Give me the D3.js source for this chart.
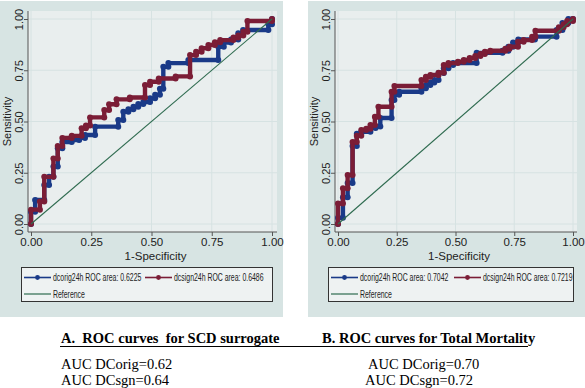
<!DOCTYPE html>
<html>
<head>
<meta charset="utf-8">
<script src="https://cdn.jsdelivr.net/npm/d3@7"></script>
<style>
  body { margin: 0; background: #fff; }
  svg { display: block; }
  .sans { font-family: "Liberation Sans", Arial, sans-serif; fill: #222; }
  .serif { font-family: "Liberation Serif", "Times New Roman", serif; fill: #000; }
</style>
</head>
<body>
<div id="chart"></div>
<script>
// ROC points [1-specificity, sensitivity]
const scdOrig = [[0,0],[0,0.06],[0.017,0.06],[0.017,0.117],[0.055,0.117],[0.055,0.19],[0.075,0.19],[0.075,0.23],
  [0.093,0.23],[0.093,0.28],[0.111,0.28],[0.111,0.37],[0.13,0.37],[0.13,0.40],[0.169,0.40],[0.169,0.41],
  [0.2,0.41],[0.2,0.42],[0.224,0.42],[0.224,0.434],[0.266,0.434],[0.266,0.475],[0.362,0.475],[0.362,0.507],
  [0.383,0.507],[0.383,0.548],[0.404,0.548],[0.404,0.56],[0.425,0.56],[0.425,0.572],[0.445,0.572],[0.445,0.585],
  [0.466,0.585],[0.466,0.595],[0.494,0.595],[0.494,0.613],[0.515,0.613],[0.515,0.63],[0.535,0.63],[0.535,0.66],
  [0.549,0.66],[0.549,0.767],[0.57,0.767],[0.57,0.785],[0.653,0.785],[0.653,0.80],[0.777,0.80],[0.777,0.865],
  [0.80,0.865],[0.80,0.885],[0.83,0.885],[0.83,0.90],[0.86,0.90],[0.86,0.93],[0.88,0.93],[0.88,0.946],
  [0.985,0.946],[0.985,0.975],[1,0.975],[1,1]];

const scdSign = [[0,0],[0,0.07],[0.037,0.07],[0.037,0.11],[0.055,0.11],[0.055,0.23],[0.093,0.23],[0.093,0.32],
  [0.111,0.32],[0.111,0.38],[0.13,0.38],[0.13,0.42],[0.169,0.42],[0.169,0.43],[0.21,0.43],[0.21,0.467],
  [0.228,0.467],[0.228,0.48],[0.245,0.48],[0.245,0.52],[0.304,0.52],[0.304,0.556],[0.324,0.556],[0.324,0.584],
  [0.355,0.584],[0.355,0.608],[0.41,0.608],[0.41,0.617],[0.473,0.617],[0.473,0.678],[0.494,0.678],[0.494,0.694],
  [0.53,0.694],[0.53,0.71],[0.6,0.71],[0.6,0.72],[0.66,0.72],[0.66,0.824],[0.685,0.824],[0.685,0.84],
  [0.708,0.84],[0.708,0.857],[0.736,0.857],[0.736,0.873],[0.763,0.873],[0.763,0.887],[0.785,0.887],[0.785,0.897],
  [0.84,0.897],[0.84,0.91],[0.86,0.91],[0.86,0.92],[0.881,0.92],[0.881,0.938],[0.898,0.938],[0.898,0.99],
  [1,0.99],[1,1]];

const mortOrig = [[0,0],[0,0.03],[0.021,0.03],[0.021,0.13],[0.041,0.13],[0.041,0.20],[0.062,0.20],[0.062,0.38],
  [0.08,0.38],[0.08,0.44],[0.099,0.44],[0.099,0.45],[0.138,0.45],[0.138,0.468],[0.16,0.468],[0.16,0.476],
  [0.18,0.476],[0.18,0.517],[0.228,0.517],[0.228,0.605],[0.24,0.605],[0.24,0.63],[0.26,0.63],[0.26,0.645],
  [0.355,0.645],[0.355,0.662],[0.374,0.662],[0.374,0.678],[0.393,0.678],[0.393,0.69],[0.41,0.69],[0.41,0.702],
  [0.428,0.702],[0.428,0.737],[0.45,0.737],[0.45,0.76],[0.47,0.76],[0.47,0.776],[0.49,0.776],[0.49,0.785],
  [0.59,0.785],[0.59,0.835],[0.70,0.835],[0.70,0.845],[0.725,0.845],[0.725,0.865],[0.745,0.865],[0.745,0.885],
  [0.767,0.885],[0.767,0.9],[0.838,0.9],[0.838,0.914],[0.93,0.914],[0.93,0.946],[0.955,0.946],[0.955,0.98],
  [0.98,0.98],[0.98,1],[1,1]];

const mortSign = [[0,0],[0,0.10],[0.021,0.10],[0.021,0.174],[0.041,0.174],[0.041,0.239],[0.062,0.239],[0.062,0.40],
  [0.08,0.40],[0.08,0.43],[0.099,0.43],[0.099,0.459],[0.12,0.459],[0.12,0.465],[0.138,0.465],[0.138,0.483],
  [0.157,0.483],[0.157,0.523],[0.172,0.523],[0.172,0.572],[0.228,0.572],[0.228,0.645],[0.24,0.645],[0.24,0.673],
  [0.355,0.673],[0.355,0.702],[0.374,0.702],[0.374,0.718],[0.393,0.718],[0.393,0.727],[0.428,0.727],[0.428,0.738],
  [0.45,0.738],[0.45,0.776],[0.47,0.776],[0.47,0.785],[0.51,0.785],[0.51,0.792],[0.535,0.792],[0.535,0.80],
  [0.56,0.80],[0.56,0.81],[0.584,0.81],[0.584,0.82],[0.606,0.82],[0.606,0.829],[0.625,0.829],[0.625,0.84],
  [0.648,0.84],[0.648,0.845],[0.712,0.845],[0.712,0.855],[0.73,0.855],[0.73,0.865],[0.766,0.865],[0.766,0.889],
  [0.79,0.889],[0.79,0.897],[0.826,0.897],[0.826,0.914],[0.84,0.914],[0.84,0.943],[0.94,0.943],[0.94,0.96],
  [0.96,0.96],[0.96,0.975],[0.975,0.975],[0.975,0.99],[1,0.99],[1,1]];

const reference = [[0,0],[1,1]];
const ticks = [0, 0.25, 0.5, 0.75, 1];

const legendA = ['dcorig24h ROC area: 0.6225', 'dcsign24h ROC area: 0.6486', 'Reference'];
const legendB = ['dcorig24h ROC area: 0.7042', 'dcsign24h ROC area: 0.7219', 'Reference'];

const captionA = 'A.  ROC curves  for SCD surrogate';
const captionB = 'B. ROC curves for Total Mortality';
const aucA = ['AUC DCorig=0.62', 'AUC DCsgn=0.64'];
const aucB = ['AUC DCorig=0.70', 'AUC DCsgn=0.72'];

const navy = '#1a3a88', maroon = '#7b1d36', green = '#2e6b4f';

const width = 585, height = 388;

const svg = d3.select('#chart').append('svg')
  .attr('width', width)
  .attr('height', height);

const panels = [
  { px: 0, pw: 283, rx: 28, rw: 249, x0: 31, x1: 272, lx: 21, lw: 251,
    orig: scdOrig, sign: scdSign, legend: legendA, s2x: 145 },
  { px: 308, pw: 277, rx: 335, rw: 242, x0: 338, x1: 573, lx: 328, lw: 245,
    orig: mortOrig, sign: mortSign, legend: legendB, s2x: 454 }
];

panels.forEach(p => {

  const g = svg.append('g');

  g.append('rect')
    .attr('x', p.px).attr('y', 1)
    .attr('width', p.pw).attr('height', 316)
    .attr('fill', '#d7e4e3');

  g.append('rect')
    .attr('x', p.rx).attr('y', 11)
    .attr('width', p.rw).attr('height', 221)
    .attr('fill', '#e9eeee');

  let x = d3.scaleLinear().domain([0, 1]).range([p.x0, p.x1]);
  let y = d3.scaleLinear().domain([0, 1]).range([224, 19]);

  // grid
  g.selectAll('.hg').data(ticks).enter()
    .append('line')
    .attr('x1', p.rx).attr('x2', p.rx + p.rw)
    .attr('y1', d => y(d)).attr('y2', d => y(d))
    .attr('stroke', '#d6e2e2').attr('stroke-width', 1);

  g.selectAll('.vg').data(ticks).enter()
    .append('line')
    .attr('y1', 11).attr('y2', 232)
    .attr('x1', d => x(d)).attr('x2', d => x(d))
    .attr('stroke', '#d6e2e2').attr('stroke-width', 1);

  // axes
  const xAxis = g.append('g')
    .attr('transform', 'translate(0,232)')
    .call(d3.axisBottom(x).tickValues(ticks).tickFormat(d3.format('.2f')).tickSize(4).tickSizeOuter(0));

  xAxis.select('.domain').attr('d', `M${p.rx},0H${p.rx + p.rw}`).attr('stroke', '#555');
  xAxis.selectAll('.tick line').attr('stroke', '#555');
  xAxis.selectAll('.tick text')
    .attr('class', 'sans')
    .attr('font-size', 11.5)
    .attr('y', 6)
    .attr('dy', '0.71em');

  const yAxis = g.append('g')
    .attr('transform', `translate(${p.rx},0)`)
    .call(d3.axisLeft(y).tickValues(ticks).tickFormat(d3.format('.2f')).tickSize(4).tickSizeOuter(0));

  yAxis.select('.domain').attr('d', 'M0,11V232').attr('stroke', '#555');
  yAxis.selectAll('.tick line').attr('stroke', '#555');
  yAxis.selectAll('.tick text')
    .attr('class', 'sans')
    .attr('font-size', 11)
    .attr('x', null).attr('dy', null)
    .attr('text-anchor', 'middle')
    .attr('transform', 'translate(-5,0) rotate(-90)');

  g.append('text')
    .attr('class', 'sans')
    .attr('font-size', 11.5)
    .attr('text-anchor', 'middle')
    .attr('x', (p.rx + p.rx + p.rw) / 2 + 3)
    .attr('y', 260)
    .text('1-Specificity');

  g.append('text')
    .attr('class', 'sans')
    .attr('font-size', 11)
    .attr('text-anchor', 'middle')
    .attr('transform', `translate(${p.rx - 17},${y(0.5)}) rotate(-90)`)
    .text('Sensitivity');

  // curves
  const line = d3.line().x(d => x(d[0])).y(d => y(d[1]));

  [[p.orig, navy], [p.sign, maroon]].forEach(([data, col]) => {

    g.append('path')
      .datum(data)
      .attr('d', line)
      .attr('fill', 'none')
      .attr('stroke', col)
      .attr('stroke-width', 4.4)
      .attr('stroke-linejoin', 'round')
      .attr('stroke-linecap', 'round');

    g.selectAll(null)
      .data(data)
      .enter()
      .append('circle')
      .attr('cx', d => x(d[0]))
      .attr('cy', d => y(d[1]))
      .attr('r', 3)
      .attr('fill', col);
  });

  g.append('path')
    .datum(reference)
    .attr('d', line)
    .attr('fill', 'none')
    .attr('stroke', green)
    .attr('stroke-width', 1.1);

  // legend
  g.append('rect')
    .attr('x', p.lx + 0.5).attr('y', 267.5)
    .attr('width', p.lw).attr('height', 34)
    .attr('fill', '#eef2f2')
    .attr('stroke', '#333').attr('stroke-width', 1);

  const items = [
    { sx: p.lx + 3, row: 277.5, col: navy, dot: true, text: p.legend[0] },
    { sx: p.s2x, row: 277.5, col: maroon, dot: true, text: p.legend[1] },
    { sx: p.lx + 3, row: 294, col: green, dot: false, text: p.legend[2] }
  ];

  items.forEach(it => {

    g.append('line')
      .attr('x1', it.sx).attr('x2', it.sx + 27)
      .attr('y1', it.row).attr('y2', it.row)
      .attr('stroke', it.col)
      .attr('stroke-width', it.dot ? 1.6 : 1.2);

    if (it.dot) {
      g.append('circle')
        .attr('cx', it.sx + 13.5).attr('cy', it.row)
        .attr('r', 2.4)
        .attr('fill', it.col);
    }

    g.append('text')
      .attr('class', 'sans')
      .attr('font-size', 10.5)
      .attr('transform', `translate(${it.sx + 29},${it.row + 3.8}) scale(0.66,1)`)
      .text(it.text);
  });
});

// captions below the charts
svg.append('text')
  .attr('class', 'serif')
  .attr('font-size', 14.5)
  .attr('font-weight', 'bold')
  .attr('x', 61).attr('y', 343)
  .style('white-space', 'pre')
  .text(captionA);

svg.append('text')
  .attr('class', 'serif')
  .attr('font-size', 14.5)
  .attr('font-weight', 'bold')
  .attr('x', 322).attr('y', 343)
  .style('white-space', 'pre')
  .text(captionB);

svg.append('line')
  .attr('x1', 60).attr('x2', 528)
  .attr('y1', 346.5).attr('y2', 346.5)
  .attr('stroke', '#000').attr('stroke-width', 1.2);

aucA.forEach((t, i) => {
  svg.append('text')
    .attr('class', 'serif')
    .attr('font-size', 14.5)
    .attr('x', 61).attr('y', 369 + i * 16)
    .text(t);
});

aucB.forEach((t, i) => {
  svg.append('text')
    .attr('class', 'serif')
    .attr('font-size', 14.5)
    .attr('x', i === 0 ? 368 : 365).attr('y', 369 + i * 16)
    .text(t);
});
</script>
</body>
</html>
